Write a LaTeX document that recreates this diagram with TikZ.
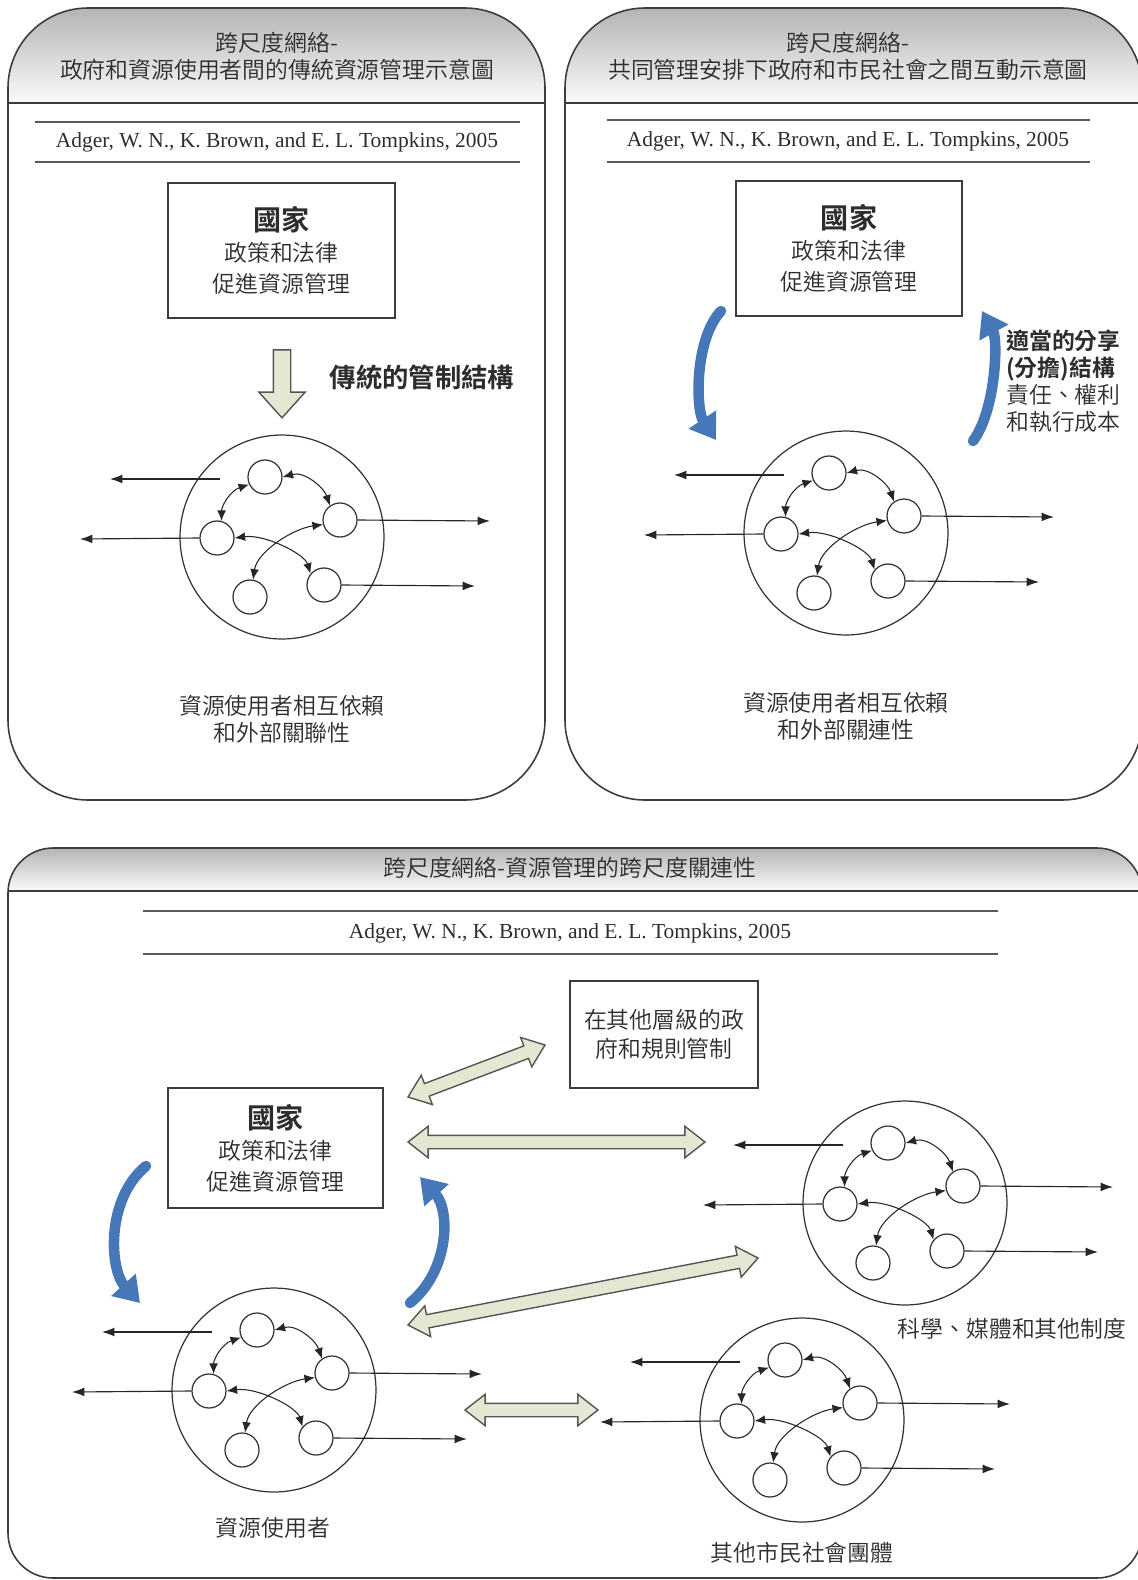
\documentclass[tikz,border=0pt]{standalone}
\usepackage{fontspec}
\setmainfont{Liberation Serif}
\newfontfamily\cjk{Noto Sans CJK TC}[UprightFont={* DemiLight}, BoldFont={* Bold}]
\usetikzlibrary{calc,arrows.meta,shapes.arrows}

\definecolor{hdtop}{RGB}{180,180,180}
\definecolor{hdbot}{RGB}{250,250,250}
\definecolor{frame}{RGB}{60,60,60}
\definecolor{arrowfill}{RGB}{228,232,210}
\definecolor{arrowline}{RGB}{85,85,85}
\definecolor{flowblue}{RGB}{70,120,185}
\definecolor{ink}{RGB}{45,45,45}

\tikzset{
  panelline/.style={draw=frame, line width=0.9pt},
  citeline/.style={draw=frame!85, line width=1pt},
  citetext/.style={font=\fontsize{12.2}{14}\selectfont, text=ink, inner sep=0pt},
  zh/.style={font=\cjk\fontsize{13}{15.5}\selectfont, text=ink, align=center, inner sep=0pt},
  statebox/.style={draw=frame, line width=0.9pt, align=center, font=\cjk\fontsize{13}{17.6}\selectfont, text=ink},
  bigring/.style={circle, draw=black!80, line width=0.7pt, minimum size=4.08cm, inner sep=0pt},
  member/.style={circle, draw=black!80, line width=0.7pt, minimum size=0.68cm, inner sep=0pt},
  tie/.style={draw=black!85, line width=0.6pt, {Latex[length=6pt,width=5pt]}-{Latex[length=6pt,width=5pt]}},
  outlink/.style={draw=black!85, line width=0.65pt, -{Latex[length=7pt,width=5pt]}},
  loopback/.style={draw=flowblue, line width=6pt, line cap=round, -{Triangle[width=18pt,length=14pt]}},
  oneway/.style={single arrow, draw=arrowline, fill=arrowfill, line width=0.8pt, inner sep=0pt,
    inner ysep=0.16cm, single arrow head extend=0.29cm, single arrow tip angle=84},
  twowayarrow/.style={double arrow, draw=arrowline, fill=arrowfill, line width=0.8pt, inner sep=0pt,
    inner ysep=0.12cm, double arrow head extend=0.18cm, double arrow tip angle=76},
  cluster/.pic={
    \node[bigring] (-ring) at (0,0) {};
    \node[member] (-a) at (-17,-60) {};
    \node[member] (-b) at (58,-17) {};
    \node[member] (-c) at (-65,1) {};
    \node[member] (-d) at (42,48) {};
    \node[member] (-e) at (-32,60) {};
    \coordinate (-as) at (-62,-58);
    \coordinate (-w1) at (-172,-58);
    \coordinate (-w2) at (-202,2);
    \coordinate (-e1) at (208,-16);
    \coordinate (-e2) at (193,49);
    \draw[tie] (-a.east) .. controls +(22,-6) and +(-6,-18) .. (-b.125);
    \draw[tie] (-a.205) .. controls +(-18,6) and +(0,-16) .. (-c.75);
    \draw[tie] (-c.east) .. controls +(30,-4) and +(-6,-20) .. (-d.140);
    \draw[tie] (-b.195) .. controls +(-30,4) and +(4,-28) .. (-e.80);
    \draw[outlink] (-as) -- (-w1);
    \draw[outlink] (-c.west) -- (-w2);
    \draw[outlink] (-b.east) -- (-e1);
    \draw[outlink] (-d.east) -- (-e2);
  }
}

\newcommand\panelframe[6]{%
  \begin{scope}
    \clip[rounded corners=#6] (#1,#2) rectangle (#3,#4);
    \shade[top color=hdtop, bottom color=hdbot] (#1,#2) rectangle (#3,#5);
  \end{scope}
  \draw[panelline, rounded corners=#6] (#1,#2) rectangle (#3,#4);
  \draw[panelline] (#1,#5) -- (#3,#5);}

\newcommand\twoway[2]{%
  \path let \p1=($(#2)-(#1)$), \n1={atan2(\y1,\x1)}, \n2={veclen(\x1,\y1)}
    in node[twowayarrow, rotate=\n1, minimum height=\n2] at ($(#1)!0.5!(#2)$) {};}

\newcommand\bighead[1]{{\bfseries\fontsize{16}{18}\selectfont #1}}

\begin{document}
\begin{tikzpicture}[x=0.02cm, y=-0.02cm]
\useasboundingbox (0,0) rectangle (1138,1580);

% upper left panel
\panelframe{8}{8}{545}{800}{103}{1.6cm}
\node[zh] (t1) at (277,56) {跨尺度網絡-\\政府和資源使用者間的傳統資源管理示意圖};
\draw[citeline] (35,122) -- (520,122);
\draw[citeline] (35,162) -- (520,162);
\node[citetext] (c1) at (277,142) {Adger, W. N., K. Brown, and E. L. Tompkins, 2005};
\node[statebox, minimum width=4.54cm, minimum height=2.7cm] (s1) at (281.5,250.5) {\bighead{國家}\\政策和法律\\促進資源管理};
\node[oneway, rotate=-90, minimum height=1.36cm] (dn) at (282,379) {};
\node[zh, font=\cjk\bfseries\fontsize{15}{18}\selectfont] (lb1) at (422,377) {傳統的管制結構};
\pic (n1) at (282,537) {cluster};
\node[zh] (cap1) at (282,719.5) {資源使用者相互依賴\\和外部關聯性};

% upper right panel
\panelframe{565}{8}{1142}{800}{103}{1.6cm}
\node[zh] (t2) at (848,56) {跨尺度網絡-\\共同管理安排下政府和市民社會之間互動示意圖};
\draw[citeline] (607,120) -- (1090,120);
\draw[citeline] (607,162) -- (1090,162);
\node[citetext] (c2) at (848,141) {Adger, W. N., K. Brown, and E. L. Tompkins, 2005};
\node[statebox, minimum width=4.52cm, minimum height=2.7cm] (s2) at (849,248.5) {\bighead{國家}\\政策和法律\\促進資源管理};
\pic (n2) at (846,533) {cluster};
\coordinate (b1s) at (721,311);
\coordinate (b1e) at (716,440);
\coordinate (b2s) at (973,441);
\coordinate (b2e) at (982,311);
\draw[loopback] (b1s) .. controls (694,340) and (696,410) .. (b1e);
\draw[loopback] (b2s) .. controls (996,410) and (998,340) .. (b2e);
\node[zh, anchor=west, align=left] (lb2) at (1006,381) {\textbf{適當的分享}\\\textbf{(分擔)結構}\\責任、權利\\和執行成本};
\node[zh] (cap2) at (846,716.5) {資源使用者相互依賴\\和外部關連性};

% lower panel
\panelframe{8}{848}{1142}{1578}{891}{0.9cm}
\node[zh] (t3) at (570,868) {跨尺度網絡-資源管理的跨尺度關連性};
\draw[citeline] (143,911) -- (998,911);
\draw[citeline] (143,954) -- (998,954);
\node[citetext] (c3) at (570,933) {Adger, W. N., K. Brown, and E. L. Tompkins, 2005};
\node[statebox, minimum width=3.76cm, minimum height=2.14cm, font=\cjk\fontsize{13}{16.4}\selectfont] (oth) at (664,1034.5) {在其他層級的政\\府和規則管制};
\node[statebox, minimum width=4.3cm, minimum height=2.4cm] (s3) at (275.5,1148) {\bighead{國家}\\政策和法律\\促進資源管理};
\pic (us) at (274,1390) {cluster};
\pic (sci) at (905,1203) {cluster};
\pic (civ) at (802,1420) {cluster};
\node[zh] (cap3) at (273,1528) {資源使用者};
\node[zh] (cap4) at (1012,1329) {科學、媒體和其他制度};
\node[zh] (cap5) at (802,1553) {其他市民社會團體};

\coordinate (a1s) at (408,1097);
\coordinate (a1e) at (545,1045);
\coordinate (a2s) at (408,1142);
\coordinate (a2e) at (705,1142);
\coordinate (a3s) at (408,1325);
\coordinate (a3e) at (758,1258);
\coordinate (a4s) at (465,1410);
\coordinate (a4e) at (598,1410);
\twoway{a1s}{a1e}
\twoway{a2s}{a2e}
\twoway{a3s}{a3e}
\twoway{a4s}{a4e}

\coordinate (b3s) at (146,1166);
\coordinate (b3e) at (140,1303);
\coordinate (b4s) at (410,1303);
\coordinate (b4e) at (420,1177);
\draw[loopback] (b3s) .. controls (105,1200) and (110,1270) .. (b3e);
\draw[loopback] (b4s) .. controls (450,1270) and (450,1210) .. (b4e);
\end{tikzpicture}
\end{document}
